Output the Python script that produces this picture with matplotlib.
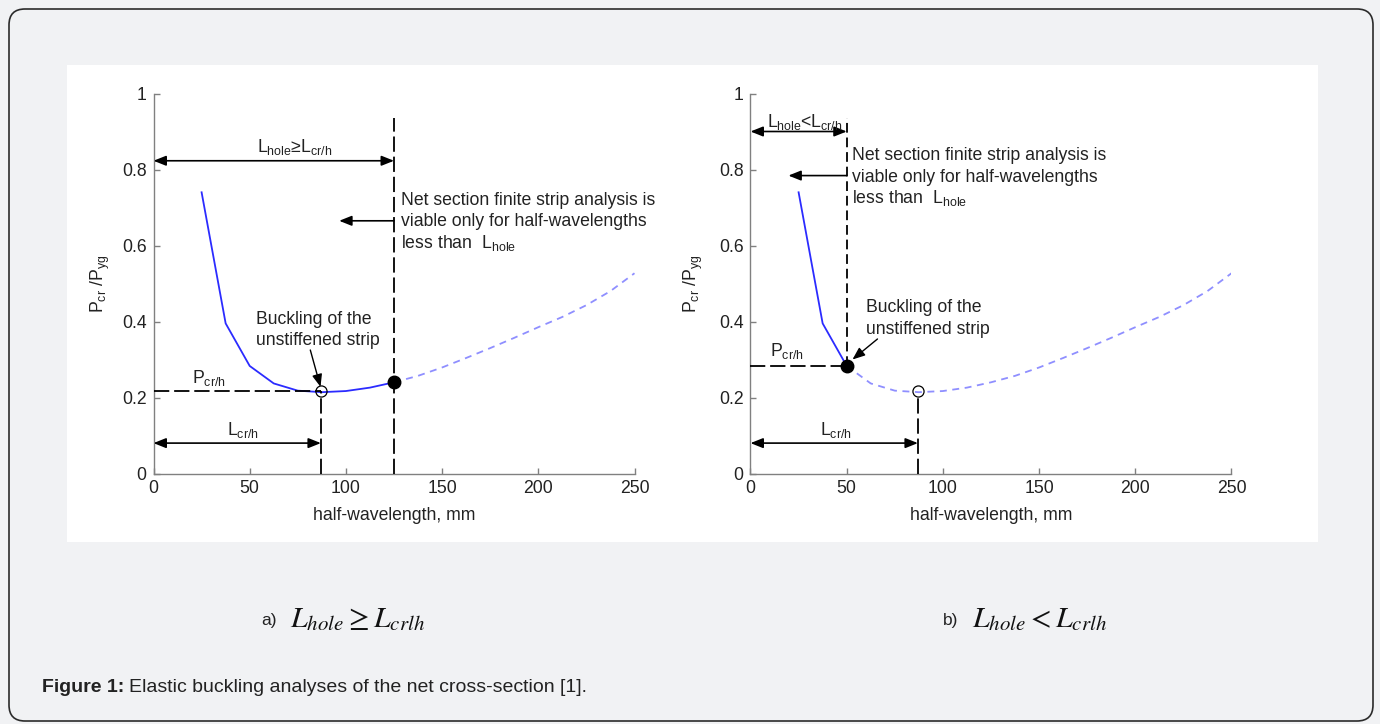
import numpy as np
import matplotlib
matplotlib.use("Agg")
import matplotlib.pyplot as plt
from matplotlib.patches import FancyBboxPatch, Rectangle
from matplotlib.transforms import IdentityTransform

plt.rcParams["font.family"] = ["Liberation Sans", "DejaVu Sans"]
plt.rcParams["mathtext.fontset"] = "custom"
plt.rcParams["mathtext.rm"] = "Liberation Sans"
plt.rcParams["mathtext.it"] = "Liberation Sans:italic"
plt.rcParams["mathtext.bf"] = "Liberation Sans:bold"
plt.rcParams["lines.scale_dashes"] = False

# signature curve: half-wavelength (mm) vs Pcr/Pyg
half_wavelength = [25, 37.5, 50, 62.5, 75, 87.5, 100, 112.5, 125, 137.5, 150,
                   162.5, 175, 187.5, 200, 212.5, 225, 237.5, 250]
load_ratio = [0.74, 0.395, 0.283, 0.237, 0.218, 0.214, 0.217, 0.226, 0.24, 0.257, 0.279,
              0.304, 0.330, 0.357, 0.385, 0.412, 0.443, 0.480, 0.527]

L_HOLE = [125, 50]        # mm, panel a) and b)
L_CR = 87                 # mm, critical half-wavelength of the unstiffened strip
P_CR = 0.216

x_ticks = [0, 50, 100, 150, 200, 250]
y_ticks = [0, 0.2, 0.4, 0.6, 0.8, 1]
y_tick_labels = ["0", "0.2", "0.4", "0.6", "0.8", "1"]

W, H = 1380, 724
INK = "#222222"
AXIS_GRAY = "#808080"
FS = 12.7

fig = plt.figure(figsize=(W / 100, H / 100), dpi=100, facecolor="#f1f2f4")

# page decoration: rounded outer frame and white plot panel
fig.add_artist(FancyBboxPatch((9, 3), 1364, 712, boxstyle="round,pad=0,rounding_size=16",
                              transform=IdentityTransform(), facecolor="none",
                              edgecolor="#2b2b2b", lw=1.2, zorder=-2))
fig.add_artist(Rectangle((67, H - 542), 1251, 477, transform=IdentityTransform(),
                         facecolor="white", edgecolor="none", zorder=-1))


def px_axes(x0, x1, y_top, y_bot):
    return fig.add_axes([x0 / W, (H - y_bot) / H, (x1 - x0) / W, (y_bot - y_top) / H])


def style_axes(ax, ylabel_x):
    ax.set_xlim(0, 250)
    ax.set_ylim(0, 1)
    ax.set_facecolor("none")
    ax.spines["top"].set_visible(False)
    ax.spines["right"].set_visible(False)
    for s in ("left", "bottom"):
        ax.spines[s].set_color(AXIS_GRAY)
        ax.spines[s].set_linewidth(1.0)
    ax.set_xticks(x_ticks)
    ax.set_yticks(y_ticks)
    ax.set_yticklabels(y_tick_labels)
    ax.tick_params(direction="in", length=4, width=1, color=AXIS_GRAY,
                   labelsize=FS, labelcolor=INK, pad=5)
    ax.set_xlabel("half-wavelength, mm", fontsize=FS, color=INK)
    ax.set_ylabel(r"P$_{\mathregular{cr}}$ /P$_{\mathregular{yg}}$", fontsize=FS, color=INK)
    ax.xaxis.set_label_coords(0.5, -0.088)
    ax.yaxis.set_label_coords(ylabel_x, 0.5)


def draw_curve(ax, l_hole):
    x = np.array(half_wavelength)
    y = np.array(load_ratio)
    solid = x <= l_hole
    dashed = x >= l_hole
    ax.plot(x[solid], y[solid], color="#2b2bff", lw=1.3, zorder=3)
    ax.plot(x[dashed], y[dashed], color="#8f8fff", lw=1.3, dashes=(5, 4), zorder=3)
    p_hole = np.interp(l_hole, x, y)
    ax.plot(l_hole, p_hole, "o", ms=9, color="k", zorder=6, clip_on=False)
    ax.plot(L_CR, P_CR, "o", ms=8, mfc="none", mec="k", mew=0.9, zorder=6)
    return p_hole


def arrow(ax, x0, x1, y, both=True):
    style = "<|-|>" if both else "-|>"
    ax.annotate("", xy=(x1, y), xytext=(x0, y), annotation_clip=False,
                arrowprops=dict(arrowstyle=style + ",head_length=0.5,head_width=0.2",
                                color="k", lw=1.2, shrinkA=0, shrinkB=0, mutation_scale=15))


def vline(ax, x, y0, y1, dashes):
    ax.plot([x, x], [y0, y1], color="k", lw=1.3, dashes=dashes, clip_on=False, zorder=4)


def hline(ax, y, x0, x1, dashes):
    ax.plot([x0, x1], [y, y], color="k", lw=1.3, dashes=dashes, clip_on=False, zorder=4)


def note(ax, x, y, s):
    ax.text(x, y, s, fontsize=FS, color=INK, va="baseline", ha="left")


# ---- panel a) L_hole >= L_cr/h
ax1 = px_axes(153.5, 634.5, 93.5, 473.5)
style_axes(ax1, -0.086)
draw_curve(ax1, L_HOLE[0])
long_dash = (11, 3.5)
vline(ax1, L_HOLE[0], 0, 0.935, long_dash)
vline(ax1, L_CR, 0, P_CR, long_dash)
hline(ax1, 0.218, 0, L_CR, long_dash)
arrow(ax1, 0, L_HOLE[0], 0.823)
note(ax1, 54, 0.845, r"L$_{\mathregular{hole}}$≥L$_{\mathregular{cr/h}}$")
arrow(ax1, L_HOLE[0], 96.5, 0.665, both=False)
note(ax1, 128.5, 0.706, "Net section finite strip analysis is")
note(ax1, 128.5, 0.650, "viable only for half-wavelengths")
note(ax1, 128.5, 0.594, r"less than  L$_{\mathregular{hole}}$")
note(ax1, 53.5, 0.393, "Buckling of the")
note(ax1, 53.5, 0.339, "unstiffened strip")
ax1.annotate("", xy=(86.8, 0.228), xytext=(81.5, 0.325),
             arrowprops=dict(arrowstyle="-|>,head_length=0.5,head_width=0.2", color="k",
                             lw=1.0, shrinkA=0, shrinkB=0, mutation_scale=15))
note(ax1, 20, 0.239, r"P$_{\mathregular{cr/h}}$")
note(ax1, 38, 0.102, r"L$_{\mathregular{cr/h}}$")
arrow(ax1, 0, L_CR, 0.08)

# ---- panel b) L_hole < L_cr/h
ax2 = px_axes(750.5, 1231.5, 93.5, 473.5)
style_axes(ax2, -0.095)
p_b = draw_curve(ax2, L_HOLE[1])
short_dash = (7, 3.5)
vline(ax2, L_HOLE[1], p_b, 0.935, short_dash)
vline(ax2, L_CR, 0, P_CR - 0.012, long_dash)
hline(ax2, p_b, 0, L_HOLE[1], long_dash)
arrow(ax2, 0, L_HOLE[1], 0.90)
note(ax2, 8.7, 0.913, r"L$_{\mathregular{hole}}$<L$_{\mathregular{cr/h}}$")
arrow(ax2, L_HOLE[1], 19.7, 0.784, both=False)
note(ax2, 52.6, 0.824, "Net section finite strip analysis is")
note(ax2, 52.6, 0.768, "viable only for half-wavelengths")
note(ax2, 52.6, 0.712, r"less than  L$_{\mathregular{hole}}$")
note(ax2, 60, 0.424, "Buckling of the")
note(ax2, 60, 0.368, "unstiffened strip")
ax2.annotate("", xy=(53, 0.300), xytext=(66, 0.354),
             arrowprops=dict(arrowstyle="-|>,head_length=0.5,head_width=0.2", color="k",
                             lw=1.0, shrinkA=0, shrinkB=0, mutation_scale=15))
note(ax2, 10.3, 0.310, r"P$_{\mathregular{cr/h}}$")
note(ax2, 36.2, 0.102, r"L$_{\mathregular{cr/h}}$")
arrow(ax2, 0, L_CR, 0.08)

# ---- sub captions and figure caption
fig.text(261 / W, 1 - 620 / H, "a)", fontsize=12.5, va="center", color=INK)
fig.text(290 / W, 1 - 627 / H, r"$L_{hole} \geq L_{crlh}$", math_fontfamily="stix",
         fontsize=21.5, va="baseline", color="#111111")
fig.text(943 / W, 1 - 620 / H, "b)", fontsize=12.5, va="center", color=INK)
fig.text(972 / W, 1 - 627 / H, r"$L_{hole} < L_{crlh}$", math_fontfamily="stix",
         fontsize=21.5, va="baseline", color="#111111")

bold = fig.text(42 / W, 1 - 692 / H, "Figure 1:", fontsize=14, fontweight="bold",
                va="baseline", color=INK)
fig.canvas.draw()
bb = bold.get_window_extent()
fig.text((bb.x1 + 5) / W, 1 - 692 / H, "Elastic buckling analyses of the net cross-section [1].",
         fontsize=14, va="baseline", color=INK)

fig.savefig("out.png", dpi=100, facecolor=fig.get_facecolor())
